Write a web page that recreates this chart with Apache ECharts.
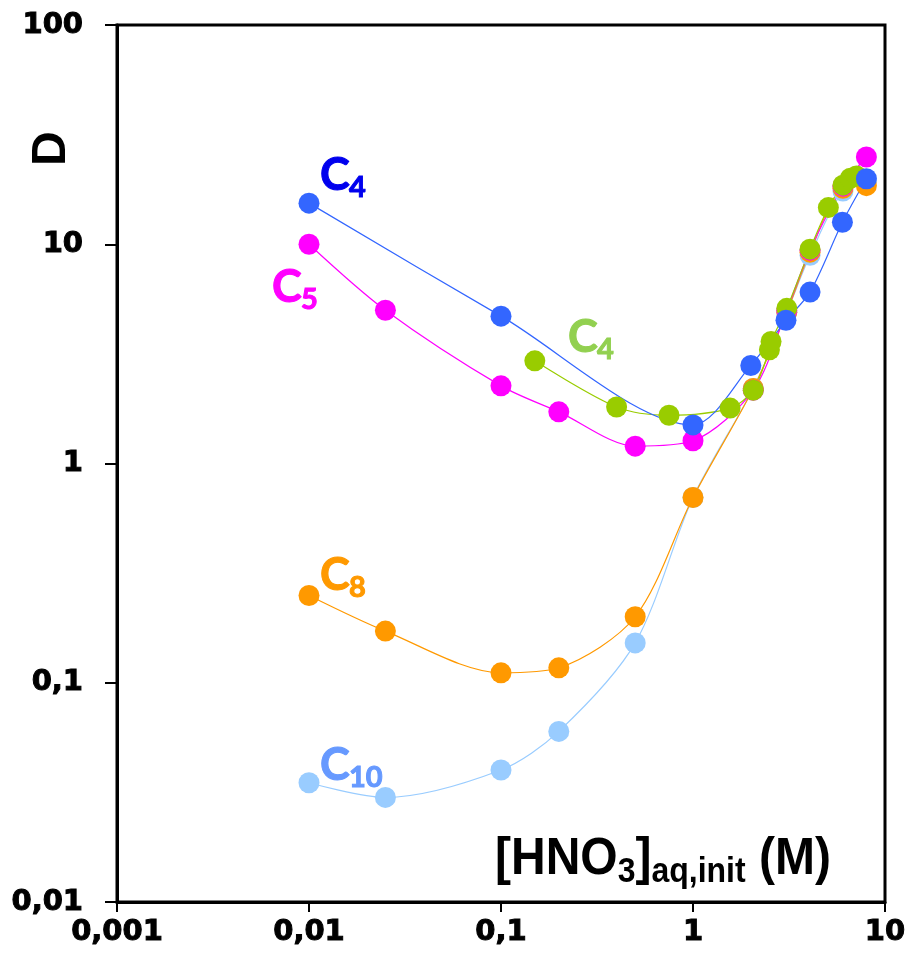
<!DOCTYPE html>
<html>
<head>
<meta charset="utf-8">
<script src="https://cdn.jsdelivr.net/npm/echarts@6/dist/echarts.min.js"></script>
<style>
  html, body { margin: 0; padding: 0; background: #fff; }
  #chart { width: 910px; height: 964px; }
</style>
</head>
<body>
<div id="chart"></div>
<script>
// tick labels (decimal comma, as in the original)
const xTickLabels = ['0,001', '0,01', '0,1', '1', '10']
const yTickLabels = ['0,01', '0,1', '1', '10', '100']

// [HNO3] (M), D
const c10Data = [[0.01, 0.035], [0.025, 0.030], [0.1, 0.040], [0.2, 0.060], [0.5, 0.152], [1, 0.70],
  [2.06, 2.2], [3.08, 4.9], [4.07, 8.9], [6.04, 17.5], [8, 19.5]]
const c8Data = [[0.01, 0.25], [0.025, 0.172], [0.1, 0.111], [0.2, 0.117], [0.5, 0.20], [1, 0.70],
  [2.06, 2.2], [3.08, 4.9], [4.07, 9.2], [6.04, 18], [8, 18.5]]
const c5Data = [[0.01, 10], [0.025, 5.0], [0.1, 2.26], [0.2, 1.72], [0.5, 1.2], [1, 1.27],
  [2.06, 2.16], [3.08, 5.0], [4.07, 9.4], [6.04, 18.4], [8, 25]]
const c4GreenData = [[0.15, 2.94], [0.4, 1.81], [0.75, 1.66], [1.56, 1.79], [2.06, 2.16], [2.5, 3.3],
  [2.55, 3.6], [3.08, 5.1], [4.07, 9.5], [5.07, 14.7], [6.04, 18.6], [6.6, 20.0], [7.1, 20.5]]
const c4BlueData = [[0.01, 15.4], [0.1, 4.7], [1, 1.5], [2, 2.8], [3.05, 4.5], [4.07, 6.05],
  [6, 12.6], [8, 19.9]]

const chart = echarts.init(document.getElementById('chart'))

function tickLabel(labels, minExp) {
  return v => labels[Math.round(Math.log10(v)) - minExp] || ''
}

function makeSeries(name, data, color) {
  return {
    name,
    type: 'line',
    data,
    smooth: 0.3,
    symbol: 'circle',
    symbolSize: 21,
    lineStyle: { color, width: 1.2 },
    itemStyle: { color },
    animation: false
  }
}

// series label: big "C" plus subscript
function seriesLabel(x, y, sub, color) {
  const heavy = { stroke: color, lineWidth: 1 }
  return [
    { type: 'text', x, y, style: { text: 'C', fill: color, font: 'bold 45px Lato, sans-serif', ...heavy } },
    { type: 'text', x: x + 29, y: y + 20, style: { text: sub, fill: color, font: 'bold 29px Lato, sans-serif', ...heavy } }
  ]
}

const tickFont = {
  color: '#000',
  fontFamily: 'DejaVu Sans',
  fontWeight: 'bold',
  fontSize: 29,
  textBorderColor: '#000',
  textBorderWidth: 1
}

const option = {
  backgroundColor: '#fff',
  animation: false,
  grid: {
    left: 117,
    right: 25,
    top: 25,
    bottom: 62,
    show: true,
    borderColor: '#000',
    borderWidth: 3
  },
  xAxis: {
    type: 'log',
    logBase: 10,
    min: 0.001,
    max: 10,
    axisLine: { lineStyle: { color: '#000', width: 3 } },
    axisTick: { length: 10, lineStyle: { color: '#000', width: 2 } },
    axisLabel: { ...tickFont, margin: 16, formatter: tickLabel(xTickLabels, -3) },
    splitLine: { show: false }
  },
  yAxis: {
    type: 'log',
    logBase: 10,
    min: 0.01,
    max: 100,
    axisLine: { lineStyle: { color: '#000', width: 3 } },
    axisTick: { length: 12, lineStyle: { color: '#000', width: 2 } },
    axisLabel: { ...tickFont, margin: 34, formatter: tickLabel(yTickLabels, -2) },
    splitLine: { show: false }
  },
  series: [
    makeSeries('C10', c10Data, '#99ccff'),
    makeSeries('C8', c8Data, '#ff9900'),
    makeSeries('C5', c5Data, '#ff00ff'),
    makeSeries('C4 green', c4GreenData, '#99cc00'),
    makeSeries('C4 blue', c4BlueData, '#3366ff')
  ],
  graphic: [
    ...seriesLabel(320, 153, '4', '#0000ee'),
    ...seriesLabel(272, 265, '5', '#ff00ff'),
    ...seriesLabel(568, 315, '4', '#92d050'),
    ...seriesLabel(320, 553, '8', '#ff9900'),
    ...seriesLabel(320, 743, '10', '#6699ff'),
    {
      type: 'text', x: 28, y: 166, rotation: Math.PI / 2,
      style: { text: 'D', fill: '#000', font: 'bold 48px "Liberation Sans", sans-serif' }
    },
    {
      type: 'text', x: 495, y: 834, scaleY: 1.08,
      style: {
        text: '{m|[HNO}{s|3}{m|]}{s|aq,init}{m| (M)}',
        rich: {
          m: { fill: '#000', fontFamily: 'Liberation Sans', fontWeight: 'bold', fontSize: 48, verticalAlign: 'top' },
          s: { fill: '#000', fontFamily: 'Liberation Sans', fontWeight: 'bold', fontSize: 32, padding: [20, 0, 0, 0], verticalAlign: 'top' }
        }
      }
    }
  ]
}

chart.setOption(option)
</script>
</body>
</html>
